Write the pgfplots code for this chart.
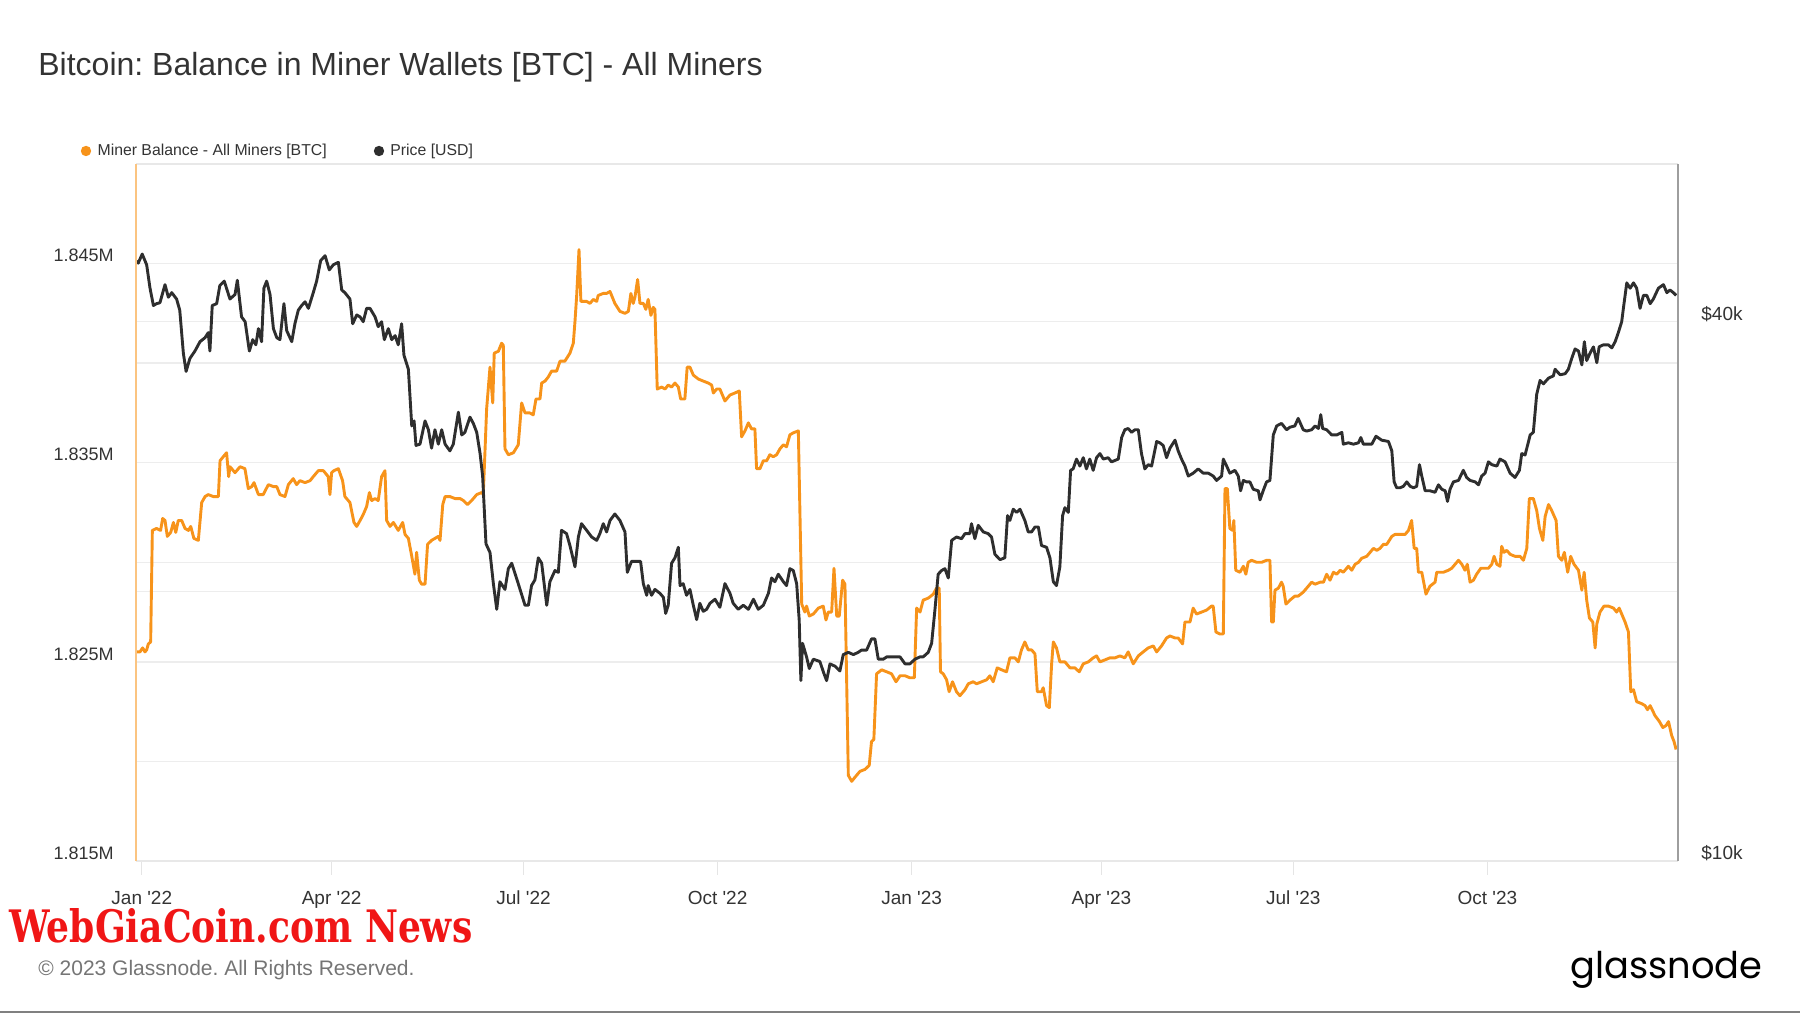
\documentclass[border=0pt]{standalone}
\usepackage{pgfplots}
\pgfplotsset{compat=1.18}
\usepackage{fontspec}
\setmainfont{Liberation Sans}
\newfontfamily\wmfont{DejaVu Serif}
\newfontfamily\logofont{Poppins}
\definecolor{btc}{HTML}{F7931A}
\definecolor{pricec}{HTML}{2E2E2E}
\definecolor{txt}{HTML}{333333}
\definecolor{gridc}{HTML}{EDEDED}
\definecolor{foot}{HTML}{757575}
\definecolor{wm}{RGB}{240,22,22}
\frenchspacing
\begin{document}
\begin{tikzpicture}
\path[use as bounding box] (0,0) rectangle (900pt,506.5pt);
% ---------- Miner balance (left axis) ----------
\begin{axis}[
  at={(68pt,76pt)}, anchor=south west,
  width=771pt, height=348.5pt, scale only axis,
  xmin=-2.75, xmax=728.4, ymin=1815, ymax=1850,
  axis line style={draw=none},
  xtick={0,90,181,273,365,455,546,638},
  xticklabels={Jan \textquotesingle{}22,Apr \textquotesingle{}22,Jul \textquotesingle{}22,Oct \textquotesingle{}22,Jan \textquotesingle{}23,Apr \textquotesingle{}23,Jul \textquotesingle{}23,Oct \textquotesingle{}23},
  xtick pos=lower,
  ytick={1815,1820,1825,1830,1835,1840,1845,1850},
  yticklabels={1.815M,,1.825M,,1.835M,,1.845M,},
  extra y ticks={1828.54,1842.08},
  extra y tick labels={},
  extra y tick style={grid=major, ytick style={draw=none}},
  ymajorgrids,
  grid style={draw=gridc, line width=0.75pt},
  tick align=outside,
  major tick length=7pt,
  xtick style={draw=black!10, line width=0.6pt},
  ytick style={draw=none},
  yticklabel style={anchor=east, inner sep=0pt, xshift=-4pt, yshift=4pt, font=\fontsize{9}{10}\selectfont, text=txt},
  xticklabel style={anchor=base, inner sep=0pt, yshift=-14.6pt, font=\fontsize{9.5}{11}\selectfont, text=txt},
  clip=false,
]
\addplot[btc, line width=1.45pt, line join=round] coordinates {
(-2.4,1825.5) (-0.9,1825.5) (0.4,1825.7) (1.5,1825.5) (2.3,1825.6) (3.1,1825.9) (4.2,1826.0)
(5.0,1831.6) (7.0,1831.7) (8.9,1831.6) (9.9,1832.2) (11.0,1832.1) (12.1,1831.3) (13.7,1831.5)
(15.0,1832.0) (16.1,1831.5) (17.3,1832.1) (18.9,1832.1) (20.5,1831.7) (22.1,1831.6) (23.2,1831.8)
(24.7,1831.2) (26.8,1831.1) (28.4,1833.0) (30.0,1833.3) (31.5,1833.4) (33.9,1833.3) (36.3,1833.3)
(37.1,1835.1) (39.4,1835.4) (40.2,1835.5) (41.2,1834.3) (41.8,1834.8) (44.2,1834.5) (46.6,1834.8)
(48.9,1834.7) (50.5,1833.7) (52.1,1833.8) (53.2,1834.0) (55.3,1833.4) (57.6,1833.4) (60.0,1833.9)
(62.4,1833.8) (64.0,1833.8) (65.5,1833.4) (67.9,1833.3) (69.5,1833.9) (71.8,1834.2) (73.4,1833.9)
(75.0,1834.1) (77.4,1834.0) (79.8,1834.1) (81.3,1834.3) (83.7,1834.6) (86.1,1834.6) (88.4,1834.3)
(89.2,1833.4) (90.0,1834.5) (91.1,1834.6) (93.2,1834.7) (95.2,1834.1) (96.3,1833.3) (98.7,1833.0)
(100.6,1832.0) (101.9,1831.8) (103.5,1832.1) (105.0,1832.4) (106.6,1832.8) (107.9,1833.5) (109.0,1833.1)
(110.6,1833.2) (112.1,1833.1) (113.7,1834.3) (115.3,1834.6) (116.1,1832.1) (117.7,1831.8) (119.3,1832.0)
(121.6,1831.6) (123.7,1832.0) (124.8,1831.4) (126.4,1831.2) (128.0,1830.3) (129.5,1829.4) (130.3,1830.5)
(131.6,1829.1) (132.7,1828.9) (134.3,1828.9) (135.5,1830.9) (137.4,1831.1) (139.0,1831.2) (140.6,1831.3)
(141.4,1831.1) (142.7,1832.9) (143.8,1833.3) (146.1,1833.3) (148.5,1833.2) (150.9,1833.2) (152.5,1833.1)
(154.4,1832.9) (156.4,1833.1) (158.8,1833.4) (161.1,1833.5) (161.9,1833.4) (162.7,1835.5) (163.5,1837.7)
(165.1,1839.8) (166.4,1838.0) (167.1,1840.5) (169.1,1840.6) (170.6,1841.0) (171.4,1840.9) (172.2,1835.7)
(173.8,1835.4) (176.2,1835.5) (178.5,1835.9) (180.1,1838.0) (181.7,1837.5) (184.0,1837.5) (185.6,1837.4)
(186.9,1838.2) (188.8,1838.2) (189.6,1839.0) (191.2,1839.1) (192.7,1839.3) (194.3,1839.6) (196.7,1839.6)
(198.3,1840.1) (200.6,1840.1) (203.0,1840.5) (204.6,1841.0) (205.4,1842.1) (206.2,1843.4) (207.3,1845.7)
(208.2,1843.1) (210.9,1843.1) (212.5,1843.0) (214.1,1843.2) (215.7,1843.1) (216.4,1843.4) (218.8,1843.5)
(220.4,1843.5) (222.0,1843.6) (224.3,1843.0) (226.7,1842.6) (229.1,1842.5) (230.7,1842.6) (231.9,1843.5)
(233.0,1843.0) (233.8,1843.3) (235.1,1844.2) (236.2,1843.0) (237.8,1843.0) (239.0,1842.7) (240.1,1843.2)
(241.4,1842.4) (242.5,1842.8) (243.3,1842.7) (244.4,1838.7) (246.5,1838.8) (248.1,1838.7) (249.6,1838.9)
(251.2,1838.8) (252.8,1839.0) (254.4,1838.8) (255.5,1838.2) (257.5,1838.2) (258.6,1839.8) (259.9,1839.8)
(261.5,1839.4) (263.9,1839.2) (266.2,1839.1) (268.6,1839.0) (270.2,1838.9) (271.0,1838.5) (272.6,1838.7)
(274.1,1838.7) (276.5,1838.1) (278.9,1838.4) (281.2,1838.5) (283.3,1838.6) (284.4,1836.3) (286.0,1836.6)
(287.6,1837.0) (289.1,1836.7) (290.7,1836.7) (291.5,1834.7) (293.1,1834.7) (294.7,1835.1) (296.3,1835.1)
(297.8,1835.4) (299.4,1835.3) (301.0,1835.4) (302.6,1835.7) (304.2,1835.9) (305.7,1835.8) (307.3,1836.4)
(308.9,1836.5) (311.3,1836.6) (312.9,1827.9) (314.4,1827.5) (315.2,1827.8) (316.5,1827.3) (318.4,1827.4)
(320.8,1827.7) (323.1,1827.8) (324.4,1827.1) (325.5,1827.5) (327.1,1827.5) (328.2,1829.7) (329.5,1827.3)
(330.7,1827.3) (332.3,1829.1) (333.4,1828.9) (335.0,1819.3) (336.6,1819.0) (338.1,1819.2) (340.5,1819.5)
(342.9,1819.6) (344.9,1819.8) (346.0,1821.0) (347.1,1821.1) (348.4,1824.4) (350.8,1824.6) (353.2,1824.5)
(355.5,1824.4) (357.6,1824.0) (359.5,1824.3) (361.9,1824.3) (364.2,1824.2) (366.3,1824.2) (367.4,1827.7)
(369.0,1827.5) (370.5,1828.1) (372.9,1828.2) (375.3,1828.4) (376.8,1828.7) (378.1,1828.7) (378.7,1824.5)
(380.0,1824.4) (381.6,1824.1) (382.8,1823.5) (384.4,1824.0) (386.3,1823.5) (387.9,1823.3) (390.3,1823.6)
(391.9,1823.9) (394.2,1824.0) (395.8,1823.9) (398.2,1824.0) (400.6,1824.1) (402.1,1824.3) (403.7,1824.0)
(405.6,1824.7) (407.7,1824.6) (410.0,1824.5) (411.6,1825.2) (414.0,1825.2) (415.6,1825.0) (417.1,1825.6)
(418.7,1826.0) (420.3,1825.6) (421.9,1825.6) (423.5,1825.4) (424.6,1823.5) (426.6,1823.5) (427.4,1823.7)
(429.0,1822.8) (430.3,1822.7) (431.4,1824.9) (432.2,1826.0) (433.7,1825.7) (435.3,1825.0) (437.7,1825.0)
(440.1,1824.7) (442.4,1824.7) (444.5,1824.5) (446.4,1824.9) (448.8,1825.0) (451.1,1825.2) (452.7,1825.3)
(454.3,1825.0) (456.7,1825.1) (459.0,1825.2) (461.4,1825.2) (463.8,1825.3) (466.1,1825.2) (467.7,1825.5)
(470.1,1824.9) (472.5,1825.3) (474.8,1825.5) (477.2,1825.7) (479.6,1825.8) (481.2,1825.5) (483.5,1825.8)
(485.9,1826.2) (487.5,1826.3) (489.9,1826.2) (491.4,1826.2) (493.5,1825.9) (494.6,1827.0) (497.0,1827.0)
(498.5,1827.7) (500.1,1827.4) (502.5,1827.5) (504.9,1827.6) (507.2,1827.8) (508.0,1827.8) (509.3,1826.5)
(511.2,1826.4) (512.8,1826.4) (513.6,1833.7) (514.7,1833.7) (515.9,1831.7) (517.2,1831.6) (517.8,1832.1)
(518.7,1829.6) (520.7,1829.5) (522.3,1829.8) (523.5,1829.4) (524.6,1830.0) (526.2,1830.1) (528.6,1830.0)
(531.0,1830.0) (533.3,1830.1) (534.9,1830.1) (535.7,1827.0) (536.5,1827.0) (537.3,1828.6) (538.9,1828.7)
(540.4,1829.0) (541.2,1828.8) (542.5,1827.9) (544.4,1828.1) (546.7,1828.3) (548.3,1828.3) (550.7,1828.5)
(553.1,1828.8) (554.7,1829.0) (556.3,1828.9) (558.7,1829.0) (560.3,1829.0) (561.8,1829.4) (563.4,1829.1)
(565.0,1829.5) (566.6,1829.4) (568.2,1829.6) (569.7,1829.5) (572.1,1829.8) (573.7,1829.6) (575.3,1829.9)
(576.9,1830.0) (578.4,1830.2) (580.8,1830.3) (582.4,1830.5) (584.0,1830.7) (585.6,1830.6) (587.1,1830.7)
(588.7,1830.9) (590.3,1830.9) (592.7,1831.3) (594.2,1831.4) (596.6,1831.4) (599.0,1831.4) (600.6,1831.6)
(602.1,1832.1) (603.3,1830.7) (604.5,1830.7) (605.3,1829.5) (606.9,1829.5) (608.9,1828.4) (610.8,1828.8)
(613.2,1829.0) (614.0,1829.5) (615.6,1829.5) (617.2,1829.5) (619.5,1829.6) (621.1,1829.7) (622.7,1829.9)
(624.3,1830.1) (625.9,1829.9) (627.4,1829.6) (628.5,1829.9) (629.8,1829.0) (631.4,1829.1) (632.9,1829.4)
(634.9,1829.7) (636.9,1829.7) (638.5,1829.7) (640.1,1829.9) (641.2,1830.3) (642.5,1829.9) (644.0,1829.8)
(644.8,1830.8) (645.9,1830.5) (647.2,1830.6) (648.8,1830.4) (651.1,1830.3) (653.5,1830.3) (655.1,1830.1)
(656.7,1830.7) (657.9,1833.2) (659.8,1833.2) (661.4,1832.6) (662.7,1831.7) (664.3,1831.1) (665.4,1832.3)
(667.0,1832.9) (668.5,1832.6) (670.6,1832.1) (671.7,1830.3) (673.3,1830.1) (674.5,1830.5) (676.1,1829.5)
(677.5,1830.3) (679.1,1829.9) (681.2,1829.6) (682.8,1828.6) (683.9,1829.5) (685.1,1828.1) (686.4,1827.2)
(688.0,1827.0) (689.1,1825.7) (689.9,1826.9) (691.4,1827.5) (693.3,1827.8) (695.4,1827.8) (697.8,1827.7)
(699.3,1827.5) (700.5,1827.7) (701.7,1827.4) (703.3,1827.0) (704.9,1826.5) (706.0,1823.5) (707.3,1823.6)
(708.8,1823.0) (711.2,1822.9) (712.8,1822.8) (713.9,1822.6) (715.2,1822.8) (717.5,1822.3) (719.6,1822.0)
(721.2,1821.7) (722.7,1821.8) (723.9,1822.0) (725.4,1821.3) (726.5,1821.0) (727.5,1820.6)
};
\end{axis}
% ---------- Price (right axis, log) ----------
\begin{axis}[
  at={(68pt,76pt)}, anchor=south west,
  width=771pt, height=348.5pt, scale only axis,
  xmin=-2.75, xmax=728.4, ymode=log, ymin=10, ymax=60,
  axis line style={draw=none},
  xtick=\empty,
  ytick={10,20,40},
  yticklabels={\$10k,,\$40k},
  yticklabel pos=right,
  major tick length=0pt,
  ytick style={draw=none},
  yticklabel style={anchor=west, inner sep=0pt, xshift=11.5pt, yshift=4pt, font=\fontsize{9.5}{11}\selectfont, text=txt},
  clip=false,
]
\addplot[pricec, line width=1.45pt, line join=round] coordinates {
(-2.4,46.8) (-1.7,46.5) (0.2,47.6) (2.3,46.3) (3.9,43.6) (5.5,41.7) (7.0,41.9) (8.6,42.0) (11.0,44.0)
(12.6,42.6) (14.2,43.1) (16.5,42.4) (18.0,41.2) (19.7,36.9) (21.0,35.2) (22.8,36.4) (25.2,37.1) (27.6,38.0)
(30.0,38.4) (31.5,38.9) (32.3,37.1) (33.4,41.7) (35.5,41.9) (37.0,43.9) (39.1,44.4) (41.8,42.4) (44.2,42.9)
(45.3,44.5) (47.3,40.5) (49.0,40.0) (51.0,37.1) (52.6,38.2) (54.1,37.7) (55.3,39.3) (56.8,38.0) (57.9,43.6)
(59.2,44.4) (60.8,42.9) (62.4,39.3) (64.0,38.4) (65.5,38.2) (67.4,41.9) (68.7,39.1) (71.1,38.0) (72.6,39.8)
(74.2,41.2) (75.8,41.7) (77.4,42.1) (79.0,41.4) (81.3,43.1) (82.9,44.4) (84.8,46.8) (86.9,47.4) (88.9,45.7)
(90.8,46.3) (93.2,46.6) (94.8,43.4) (96.3,43.1) (98.7,42.4) (100.0,39.8) (101.9,40.7) (103.5,40.5) (105.0,40.0)
(106.6,41.4) (108.2,41.4) (110.6,40.5) (112.1,39.5) (113.7,40.0) (115.0,38.2) (116.9,39.3) (118.5,38.2)
(120.1,38.6) (121.6,37.7) (123.2,39.8) (124.3,36.7) (126.4,35.4) (128.0,30.6) (129.1,31.0) (130.0,29.1)
(131.9,29.2) (134.3,31.0) (135.9,30.3) (137.4,28.9) (139.0,30.3) (140.6,29.2) (142.2,30.3) (143.8,29.2)
(146.1,28.7) (147.7,29.2) (150.1,31.7) (151.7,29.9) (153.2,30.1) (155.6,31.3) (157.2,30.8) (158.8,30.1)
(160.4,28.5) (161.6,26.9) (163.2,22.6) (165.1,22.1) (166.7,20.4) (168.3,19.1) (169.8,20.5) (172.2,20.1)
(173.8,21.2) (175.4,21.5) (178.5,20.4) (181.7,19.3) (183.3,19.3) (184.8,20.3) (186.4,20.6) (188.0,21.8)
(189.6,21.5) (192.0,19.3) (193.5,20.5) (195.9,21.1) (197.5,21.0) (199.0,23.4) (201.4,23.2) (203.0,22.5)
(205.4,21.3) (207.0,23.0) (208.5,23.8) (210.9,23.4) (213.3,23.0) (215.7,22.8) (217.2,23.2) (218.8,23.8)
(220.4,23.3) (222.0,24.0) (224.3,24.4) (226.7,24.0) (229.1,23.3) (230.2,21.0) (232.2,21.6) (234.6,21.6)
(236.5,21.6) (237.8,20.4) (239.4,19.8) (240.1,20.3) (241.7,19.8) (243.3,20.1) (245.7,19.9) (247.3,19.7)
(248.4,18.9) (249.6,19.3) (251.2,21.5) (252.8,21.8) (254.4,22.4) (255.2,20.3) (256.7,20.4) (258.3,19.8)
(259.9,20.1) (261.5,19.3) (263.1,18.6) (264.6,19.4) (266.2,19.0) (267.8,19.1) (269.4,19.4) (271.8,19.6)
(274.1,19.2) (276.5,20.4) (278.9,19.9) (280.4,19.4) (282.8,19.1) (285.2,19.3) (287.6,19.1) (290.0,19.6)
(292.3,19.1) (294.7,19.3) (297.1,19.9) (298.6,20.7) (300.2,20.5) (301.8,20.9) (304.2,20.5) (305.7,20.3)
(307.3,21.2) (308.9,21.1) (310.5,20.4) (311.7,18.6) (312.5,15.9) (313.3,17.5) (315.2,16.9) (316.5,16.4)
(318.4,16.8) (321.5,16.7) (323.4,16.2) (324.7,15.9) (326.3,16.6) (328.7,16.5) (331.0,16.3) (332.6,17.0)
(335.0,17.1) (337.4,17.0) (339.7,17.1) (341.3,17.2) (343.7,17.2) (346.0,17.7) (347.6,17.7) (349.2,16.8)
(351.6,16.8) (353.2,16.9) (356.3,16.9) (359.5,16.9) (361.9,16.6) (364.2,16.6) (366.6,16.8) (369.0,16.9)
(370.5,16.9) (372.9,17.1) (374.5,17.5) (376.0,19.0) (377.6,20.9) (379.2,21.1) (380.8,21.2) (382.4,20.7)
(384.0,22.8) (386.3,23.0) (388.7,22.9) (390.3,23.2) (392.6,23.2) (393.4,23.8) (395.0,22.9) (396.6,23.7)
(399.0,23.3) (401.3,23.2) (402.9,23.0) (404.5,22.0) (406.9,21.7) (409.2,21.8) (410.5,24.3) (411.6,24.0)
(413.2,24.7) (414.8,24.5) (416.4,24.7) (418.7,24.0) (420.3,23.3) (421.9,23.3) (423.5,23.6) (425.1,23.6)
(426.6,22.5) (429.0,22.4) (430.6,21.8) (432.2,20.5) (433.7,20.3) (435.3,21.3) (436.6,24.3) (437.7,24.8)
(439.3,24.5) (440.4,27.3) (441.6,27.4) (443.2,28.1) (444.8,27.6) (446.4,28.2) (447.9,27.4) (449.5,28.1)
(451.1,27.3) (452.7,28.2) (454.3,28.5) (455.9,28.1) (458.2,28.2) (459.8,27.9) (463.0,28.1) (464.6,29.7)
(466.1,30.3) (467.7,30.4) (469.3,30.1) (470.9,30.3) (472.5,30.3) (474.0,28.5) (475.6,27.4) (477.2,27.7)
(478.8,27.6) (481.2,29.4) (482.7,29.3) (484.3,29.1) (485.9,28.2) (487.5,28.9) (489.9,29.5) (491.4,28.7)
(493.0,28.1) (494.6,27.6) (496.2,26.9) (498.5,27.1) (500.9,27.4) (503.3,27.1) (505.7,27.1) (508.0,26.9)
(509.6,26.6) (512.0,26.9) (512.8,28.1) (514.4,27.6) (515.9,27.1) (518.3,27.3) (519.9,26.9) (521.0,25.9)
(522.3,26.6) (523.8,26.5) (525.4,26.5) (527.0,26.0) (529.4,25.9) (530.2,25.3) (531.7,25.9) (533.3,26.5)
(534.9,26.6) (536.5,29.9) (538.1,30.6) (540.4,30.8) (542.8,30.3) (544.4,30.5) (546.7,30.6) (548.3,31.2)
(550.7,30.3) (552.3,30.2) (554.7,30.3) (556.3,30.6) (557.9,30.4) (559.0,31.5) (559.9,30.4) (561.8,30.3)
(564.2,29.9) (566.6,29.9) (569.0,30.1) (569.7,29.2) (572.1,29.3) (574.5,29.2) (576.9,29.3) (578.0,29.7)
(579.2,29.2) (581.6,29.2) (583.2,29.2) (585.2,29.8) (587.9,29.5) (591.1,29.4) (592.7,28.7) (593.8,26.5)
(595.0,26.1) (596.6,26.1) (598.2,26.2) (599.8,26.5) (601.4,26.2) (603.0,26.1) (604.5,26.2) (605.8,27.7)
(606.9,26.9) (608.5,25.9) (610.8,25.9) (613.2,25.8) (614.8,26.3) (616.4,26.0) (618.0,25.9) (619.1,25.2)
(620.3,26.0) (621.9,26.5) (624.3,26.6) (626.6,27.3) (628.2,26.8) (629.8,26.6) (632.2,26.5) (633.8,26.3)
(635.3,26.9) (636.9,27.1) (638.5,27.9) (640.1,27.7) (642.5,27.6) (644.0,28.1) (646.4,27.9) (648.8,27.1)
(651.1,26.8) (653.2,27.3) (654.3,28.5) (655.9,28.4) (658.3,29.9) (659.8,30.1) (661.4,33.2) (663.0,34.4)
(664.6,34.1) (667.0,34.6) (669.3,34.8) (670.1,35.4) (672.5,34.9) (674.9,35.0) (676.4,35.4) (678.0,36.4)
(679.6,37.3) (681.2,37.1) (682.8,35.8) (684.0,38.0) (685.1,36.2) (686.7,36.9) (688.3,37.5) (689.9,36.0)
(691.0,37.5) (693.0,37.7) (695.4,37.7) (697.0,37.4) (698.6,38.0) (700.1,38.9) (701.7,40.0) (702.5,41.4)
(704.1,44.2) (705.7,43.6) (707.3,44.2) (708.8,43.6) (710.4,41.4) (712.0,42.8) (713.6,42.8) (715.2,41.9)
(716.7,42.4) (719.1,43.6) (721.5,44.0) (723.1,43.1) (724.6,43.4) (726.2,43.1) (727.5,42.8)
};
\end{axis}
% ---------- frame ----------
\draw[black!9, line width=0.75pt] (68pt,424.5pt) -- (839pt,424.5pt);
\draw[black!9, line width=0.75pt] (68pt,76pt) -- (839pt,76pt);
\draw[black!38, line width=0.8pt] (839pt,76pt) -- (839pt,424.5pt);
\draw[btc!55, line width=0.6pt] (68pt,76pt) -- (68pt,424.5pt);
% ---------- title ----------
\node[anchor=west, inner sep=0pt, text=txt, font=\fontsize{16}{19}\selectfont] at (19pt,472.8pt) {Bitcoin: Balance in Miner Wallets [BTC] - All Miners};
% ---------- legend ----------
\fill[btc] (43pt,431pt) circle (2.6pt);
\node[anchor=west, inner sep=0pt, text=txt, font=\fontsize{7.9}{9}\selectfont] at (48.6pt,431pt) {Miner Balance - All Miners [BTC]};
\fill[pricec] (189.5pt,431pt) circle (2.6pt);
\node[anchor=west, inner sep=0pt, text=txt, font=\fontsize{7.9}{9}\selectfont] at (195pt,431pt) {Price [USD]};
% ---------- watermark and footer ----------
\node[anchor=west, inner sep=0pt, text=wm] at (4.5pt,43.5pt) {\resizebox{231.5pt}{17pt}{\wmfont\bfseries WebGiaCoin.com News}};
\node[anchor=west, inner sep=0pt, text=foot, font=\fontsize{10.5}{12}\selectfont] at (19pt,21.5pt) {\textcopyright{} 2023 Glassnode. All Rights Reserved.};
\node[anchor=base west, inner sep=0pt, text=black] at (785pt,17.5pt) {\resizebox{96pt}{!}{\logofont glassnode}};
\draw[black!50, line width=0.9pt] (0pt,0.6pt) -- (900pt,0.6pt);
\end{tikzpicture}
\end{document}
